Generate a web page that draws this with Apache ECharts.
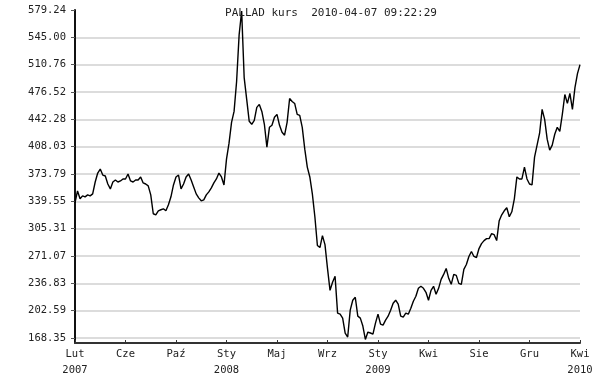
<!DOCTYPE html>
<html>
<head>
<meta charset="utf-8">
<script src="https://cdn.jsdelivr.net/npm/echarts@6/dist/echarts.min.js"></script>
<style>html,body{margin:0;padding:0;background:#fff;}#c{width:598px;height:378px;}</style>
</head>
<body>
<div id="c"></div>
<script>
const titleText = 'PALLAD kurs  2010-04-07 09:22:29';
const xLabels = ['Lut\n2007','Cze','Paź','Sty\n2008','Maj','Wrz','Sty\n2009','Kwi','Sie','Gru','Kwi\n2010'];
const yTickLabels = ['168.35','202.59','236.83','271.07','305.31','339.55','373.79','408.03','442.28','476.52','510.76','545.00','579.24'];
const prices = [
337.7,352.6,342.7,346.4,345.2,347.6,346.4,348.9,363.8,375.0,
380.0,372.5,371.3,361.3,355.1,363.8,366.3,363.8,365.1,367.6,
367.6,373.8,365.1,363.8,366.3,366.3,370.1,362.6,361.3,358.9,
347.6,324.0,322.7,327.7,329.0,330.2,327.7,335.2,345.2,360.1,
370.1,372.5,355.1,361.3,370.1,373.8,366.3,357.6,348.9,343.9,
340.2,341.4,347.6,351.4,356.4,362.6,367.6,375.0,370.1,360.1,
392.5,412.4,438.5,452.2,489.6,548.1,578.0,494.6,467.2,439.8,
436.1,441.0,457.2,461.0,452.2,436.1,407.4,432.3,434.8,444.8,
448.5,434.8,426.1,422.4,438.5,468.4,464.7,462.2,448.5,447.3,
432.3,404.9,382.5,370.1,348.9,320.3,284.2,281.7,296.6,285.4,
255.5,228.1,238.1,245.6,199.5,198.2,193.3,174.6,169.6,203.2,
215.7,219.4,195.7,193.3,183.3,166.5,175.8,174.6,173.3,187.0,
198.2,185.8,184.5,190.8,195.7,203.2,211.9,215.7,210.7,195.7,
194.5,199.5,198.2,205.7,214.4,220.6,230.6,233.1,230.6,225.6,
215.7,228.1,233.1,223.1,230.6,241.8,248.0,255.5,243.1,235.6,
248.0,246.8,236.8,235.6,254.3,260.5,270.5,276.7,270.5,269.2,
280.4,286.6,290.4,292.9,292.9,299.1,297.8,290.4,315.3,322.7,
327.7,331.5,320.3,326.5,342.7,370.1,367.6,367.6,382.5,367.6,
361.3,360.1,395.0,409.9,424.9,454.7,442.3,417.4,403.7,409.9,
423.6,432.3,427.3,448.5,473.4,462.2,474.7,454.7,482.1,499.6,
510.8
];

const yTicks = yTickLabels.map(Number);
const seriesData = prices.map((v, i) => [i, v]);
const font = '"DejaVu Sans Mono", monospace';

const chart = echarts.init(document.getElementById('c'), null, {renderer: 'canvas'});
chart.setOption({
  animation: false,
  backgroundColor: '#fff',
  title: {
    text: titleText,
    left: 326,
    top: 3,
    textAlign: 'center',
    textStyle: {fontFamily: font, fontSize: 11, fontWeight: 'normal', color: '#222'}
  },
  grid: {left: 75, right: 18, top: 10, bottom: 33, containLabel: false},
  xAxis: {
    type: 'value',
    min: 0,
    max: prices.length - 1,
    interval: 20,
    axisLine: {show: true, lineStyle: {color: '#333', width: 2}},
    axisTick: {show: true, inside: true, length: 3, lineStyle: {color: '#333'}},
    splitLine: {show: false},
    axisLabel: {
      fontFamily: font, fontSize: 10.5, color: '#222', margin: 3, lineHeight: 16,
      formatter: v => xLabels[Math.round(v / 20)] || ''
    }
  },
  yAxis: {
    type: 'value',
    min: 162.1,
    max: 579.24,
    axisLine: {show: true, lineStyle: {color: '#111', width: 2}},
    axisTick: {show: true, length: 4, customValues: yTicks, lineStyle: {color: '#555'}},
    splitLine: {show: true, showMaxLine: false, lineStyle: {color: '#dcdcdc', width: 2}},
    axisLabel: {
      customValues: yTicks,
      fontFamily: font, fontSize: 10.5, color: '#222', margin: 9,
      formatter: v => v.toFixed(2)
    }
  },
  series: [{
    type: 'line',
    data: seriesData,
    showSymbol: false,
    symbol: 'none',
    lineStyle: {color: '#000', width: 1.4},
    clip: false
  }]
});
</script>
</body>
</html>
